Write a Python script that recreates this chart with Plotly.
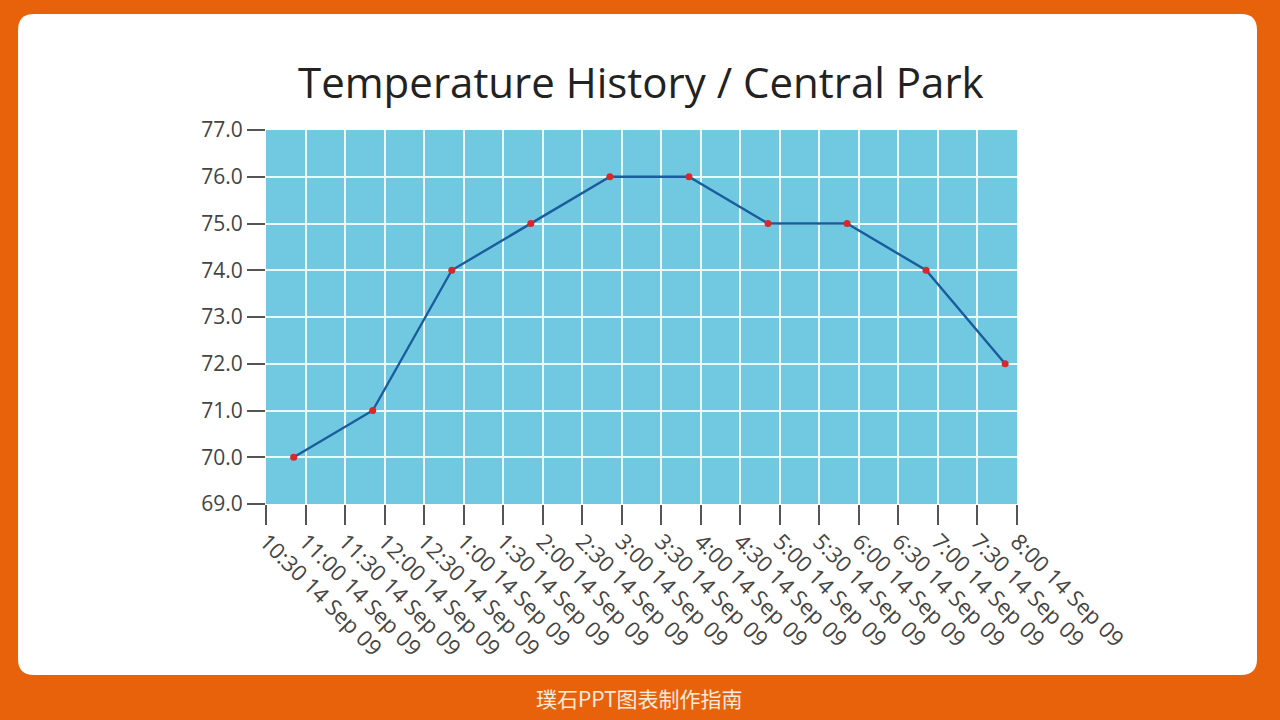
import plotly.graph_objects as go

# ---- data ----
obs_times = ["2009-09-14 10:51", "2009-09-14 11:51", "2009-09-14 12:51", "2009-09-14 13:51",
             "2009-09-14 14:51", "2009-09-14 15:51", "2009-09-14 16:51", "2009-09-14 17:51",
             "2009-09-14 18:51", "2009-09-14 19:51"]
temps = [70, 71, 74, 75, 76, 76, 75, 75, 74, 72]

tick_times = ["2009-09-14 10:30", "2009-09-14 11:00", "2009-09-14 11:30", "2009-09-14 12:00",
              "2009-09-14 12:30", "2009-09-14 13:00", "2009-09-14 13:30", "2009-09-14 14:00",
              "2009-09-14 14:30", "2009-09-14 15:00", "2009-09-14 15:30", "2009-09-14 16:00",
              "2009-09-14 16:30", "2009-09-14 17:00", "2009-09-14 17:30", "2009-09-14 18:00",
              "2009-09-14 18:30", "2009-09-14 19:00", "2009-09-14 19:30", "2009-09-14 20:00"]
tick_labels = ["10:30 14 Sep 09", "11:00 14 Sep 09", "11:30 14 Sep 09", "12:00 14 Sep 09",
               "12:30 14 Sep 09", "1:00 14 Sep 09", "1:30 14 Sep 09", "2:00 14 Sep 09",
               "2:30 14 Sep 09", "3:00 14 Sep 09", "3:30 14 Sep 09", "4:00 14 Sep 09",
               "4:30 14 Sep 09", "5:00 14 Sep 09", "5:30 14 Sep 09", "6:00 14 Sep 09",
               "6:30 14 Sep 09", "7:00 14 Sep 09", "7:30 14 Sep 09", "8:00 14 Sep 09"]
y_min, y_max = 69, 77

title_text = "Temperature History / Central Park"
footer_text = "璞石PPT图表制作指南"

# ---- layout geometry (pixels) ----
W, H = 1280, 720
L, R, T, B = 266, 1017, 130, 504
pw, ph = R - L, B - T

def px(x):
    return (x - L) / pw

def py(y):
    return (B - y) / ph

# rounded card path in paper coordinates
cx0, cx1, cy0, cy1, rad = 18, 1257, 14, 675, 16
rx, ry = rad / pw, rad / ph
X0, X1, Y0, Y1 = px(cx0), px(cx1), py(cy1), py(cy0)
card_path = (f"M {X0+rx},{Y1} L {X1-rx},{Y1} Q {X1},{Y1} {X1},{Y1-ry} "
             f"L {X1},{Y0+ry} Q {X1},{Y0} {X1-rx},{Y0} "
             f"L {X0+rx},{Y0} Q {X0},{Y0} {X0},{Y0+ry} "
             f"L {X0},{Y1-ry} Q {X0},{Y1} {X0+rx},{Y1} Z")

fig = go.Figure()
fig.add_trace(go.Scatter(
    x=obs_times, y=temps, mode="lines+markers",
    line=dict(color="#1B5C9C", width=2.4),
    marker=dict(color="#D8282A", size=7),
    showlegend=False, hoverinfo="x+y",
))

fig.update_layout(
    width=W, height=H,
    margin=dict(l=L, r=W - R, t=T, b=H - B, pad=0),
    paper_bgcolor="#E8620C",
    plot_bgcolor="rgba(0,0,0,0)",
    font=dict(family="Open Sans, Noto Sans, sans-serif", color="#444444"),
    shapes=[
        dict(type="path", xref="paper", yref="paper", path=card_path,
             fillcolor="#FFFFFF", line=dict(width=0), layer="below"),
        dict(type="rect", xref="paper", yref="paper", x0=0, x1=1, y0=0, y1=1,
             fillcolor="#70C9E1", line=dict(width=0), layer="below"),
    ],
    annotations=[
        dict(text=title_text, xref="paper", yref="paper", x=px(641), y=py(82),
             xanchor="center", yanchor="middle", showarrow=False,
             font=dict(size=42, color="#222222", family="Open Sans, sans-serif")),
        dict(text=footer_text, xref="paper", yref="paper", x=px(639), y=py(698),
             xanchor="center", yanchor="middle", showarrow=False,
             font=dict(size=21, color="#FBEBDD", family="Noto Sans CJK SC, sans-serif")),
    ],
)

fig.update_xaxes(
    type="date",
    range=[tick_times[0], tick_times[-1]],
    tickmode="array", tickvals=tick_times, ticktext=tick_labels,
    tickangle=45,
    ticks="outside", ticklen=20, tickwidth=2, tickcolor="#555555",
    ticklabelstandoff=-5,
    showgrid=True, gridcolor="#EAF8FB", gridwidth=2,
    showline=False, zeroline=False,
    tickfont=dict(size=22, color="#444444"),
)
fig.update_yaxes(
    range=[y_min, y_max], dtick=1, tick0=y_min, tickformat=".1f",
    ticks="outside", ticklen=18, tickwidth=2, tickcolor="#555555",
    showgrid=True, gridcolor="#EAF8FB", gridwidth=2,
    showline=False, zeroline=False,
    tickfont=dict(size=21, color="#444444"),
)

fig.write_html("out.html")
